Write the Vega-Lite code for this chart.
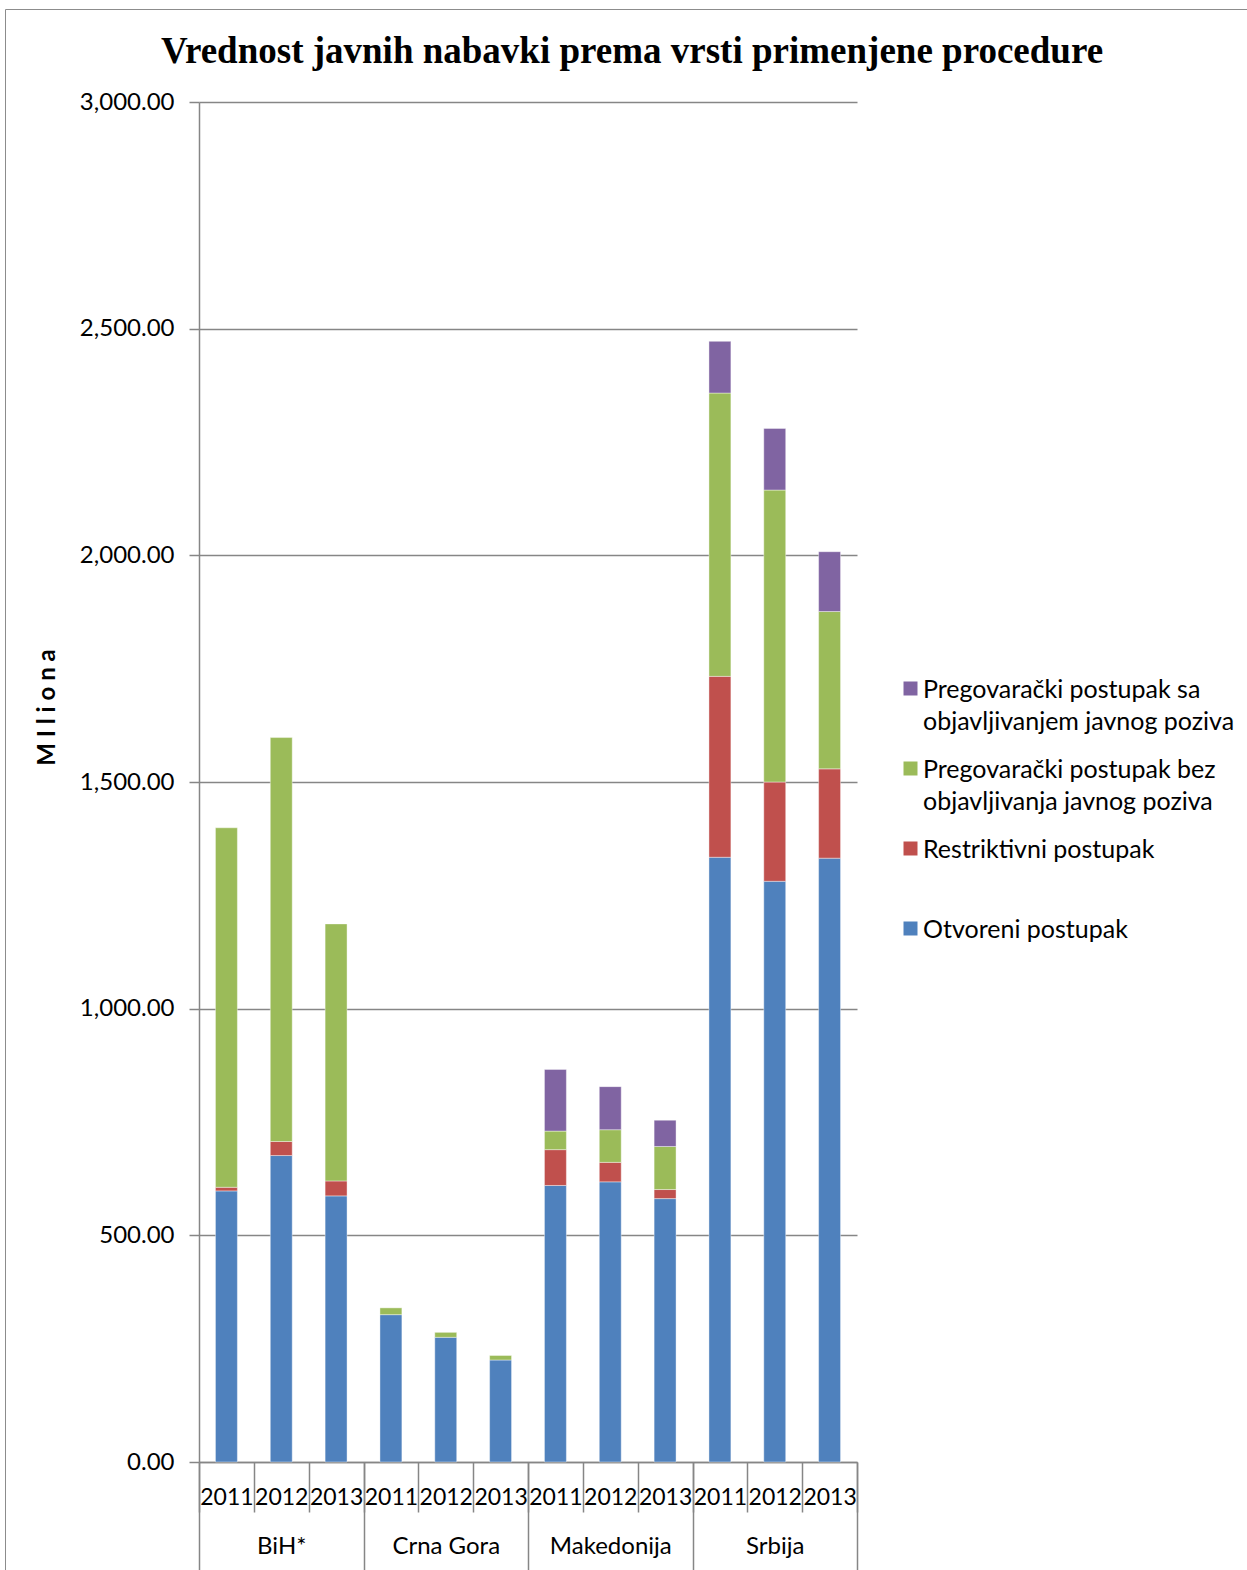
{
  "$schema": "https://vega.github.io/schema/vega-lite/v6.json",
  "width": 658,
  "height": 1360,
  "autosize": {"type": "none"},
  "padding": {"left": 199, "top": 102, "right": 390, "bottom": 108},
  "background": "white",
  "title": {
    "text": "Vrednost javnih nabavki prema vrsti primenjene procedure",
    "font": "Liberation Serif",
    "fontSize": 37,
    "fontWeight": "bold",
    "color": "#000000",
    "anchor": "middle",
    "frame": "group",
    "dx": 104,
    "dy": 84,
    "offset": 22
  },
  "config": {
    "view": {"stroke": null},
    "axis": {"labelColor": "#000000", "tickColor": "#868686", "domainColor": "#868686"},
    "style": {"guide-label": {"lineHeight": 32}}
  },
  "datasets": {
    "procurement": [
      {"country": "BiH*", "year": "2011", "procedure": "Otvoreni postupak", "value": 598},
      {"country": "BiH*", "year": "2011", "procedure": "Restriktivni postupak", "value": 8},
      {"country": "BiH*", "year": "2011", "procedure": "Pregovarački postupak bez objavljivanja javnog poziva", "value": 793},
      {"country": "BiH*", "year": "2012", "procedure": "Otvoreni postupak", "value": 676},
      {"country": "BiH*", "year": "2012", "procedure": "Restriktivni postupak", "value": 31},
      {"country": "BiH*", "year": "2012", "procedure": "Pregovarački postupak bez objavljivanja javnog poziva", "value": 891},
      {"country": "BiH*", "year": "2013", "procedure": "Otvoreni postupak", "value": 587},
      {"country": "BiH*", "year": "2013", "procedure": "Restriktivni postupak", "value": 33},
      {"country": "BiH*", "year": "2013", "procedure": "Pregovarački postupak bez objavljivanja javnog poziva", "value": 567},
      {"country": "Crna Gora", "year": "2011", "procedure": "Otvoreni postupak", "value": 325},
      {"country": "Crna Gora", "year": "2011", "procedure": "Pregovarački postupak bez objavljivanja javnog poziva", "value": 15},
      {"country": "Crna Gora", "year": "2012", "procedure": "Otvoreni postupak", "value": 275},
      {"country": "Crna Gora", "year": "2012", "procedure": "Pregovarački postupak bez objavljivanja javnog poziva", "value": 11},
      {"country": "Crna Gora", "year": "2013", "procedure": "Otvoreni postupak", "value": 225},
      {"country": "Crna Gora", "year": "2013", "procedure": "Pregovarački postupak bez objavljivanja javnog poziva", "value": 10},
      {"country": "Makedonija", "year": "2011", "procedure": "Otvoreni postupak", "value": 610},
      {"country": "Makedonija", "year": "2011", "procedure": "Restriktivni postupak", "value": 79},
      {"country": "Makedonija", "year": "2011", "procedure": "Pregovarački postupak bez objavljivanja javnog poziva", "value": 41},
      {"country": "Makedonija", "year": "2011", "procedure": "Pregovarački postupak sa objavljivanjem javnog poziva", "value": 136},
      {"country": "Makedonija", "year": "2012", "procedure": "Otvoreni postupak", "value": 618},
      {"country": "Makedonija", "year": "2012", "procedure": "Restriktivni postupak", "value": 43},
      {"country": "Makedonija", "year": "2012", "procedure": "Pregovarački postupak bez objavljivanja javnog poziva", "value": 72},
      {"country": "Makedonija", "year": "2012", "procedure": "Pregovarački postupak sa objavljivanjem javnog poziva", "value": 95},
      {"country": "Makedonija", "year": "2013", "procedure": "Otvoreni postupak", "value": 581},
      {"country": "Makedonija", "year": "2013", "procedure": "Restriktivni postupak", "value": 20},
      {"country": "Makedonija", "year": "2013", "procedure": "Pregovarački postupak bez objavljivanja javnog poziva", "value": 95},
      {"country": "Makedonija", "year": "2013", "procedure": "Pregovarački postupak sa objavljivanjem javnog poziva", "value": 58},
      {"country": "Srbija", "year": "2011", "procedure": "Otvoreni postupak", "value": 1334},
      {"country": "Srbija", "year": "2011", "procedure": "Restriktivni postupak", "value": 399},
      {"country": "Srbija", "year": "2011", "procedure": "Pregovarački postupak bez objavljivanja javnog poziva", "value": 625},
      {"country": "Srbija", "year": "2011", "procedure": "Pregovarački postupak sa objavljivanjem javnog poziva", "value": 114},
      {"country": "Srbija", "year": "2012", "procedure": "Otvoreni postupak", "value": 1281},
      {"country": "Srbija", "year": "2012", "procedure": "Restriktivni postupak", "value": 219},
      {"country": "Srbija", "year": "2012", "procedure": "Pregovarački postupak bez objavljivanja javnog poziva", "value": 644},
      {"country": "Srbija", "year": "2012", "procedure": "Pregovarački postupak sa objavljivanjem javnog poziva", "value": 136},
      {"country": "Srbija", "year": "2013", "procedure": "Otvoreni postupak", "value": 1332},
      {"country": "Srbija", "year": "2013", "procedure": "Restriktivni postupak", "value": 197},
      {"country": "Srbija", "year": "2013", "procedure": "Pregovarački postupak bez objavljivanja javnog poziva", "value": 347},
      {"country": "Srbija", "year": "2013", "procedure": "Pregovarački postupak sa objavljivanjem javnog poziva", "value": 132}
    ]
  },
  "data": {"name": "procurement"},
  "layer": [
    {
      "transform": [
        {"calculate": "datum.country + ' ' + datum.year", "as": "slot"},
        {"calculate": "indexof(['Otvoreni postupak', 'Restriktivni postupak', 'Pregovarački postupak bez objavljivanja javnog poziva', 'Pregovarački postupak sa objavljivanjem javnog poziva'], datum.procedure)", "as": "stackRank"}
      ],
      "mark": {"type": "bar", "width": {"band": 0.4}, "stroke": "#ffffff", "strokeWidth": 0.8, "strokeOpacity": 0.5},
      "encoding": {
        "x": {
          "field": "slot",
          "type": "nominal",
          "scale": {"paddingInner": 0, "paddingOuter": 0},
          "axis": {
            "title": null,
            "orient": "bottom",
            "tickBand": "extent",
            "tickSize": 50,
            "tickWidth": 1.5,
            "domainWidth": 1.5,
            "labelExpr": "substring(datum.label, length(datum.label) - 4)",
            "labelAngle": 0,
            "labelBaseline": "middle",
            "labelPadding": -15,
            "labelFont": "Lato",
            "labelFontSize": 23,
            "labelOverlap": false,
            "labelBound": false,
            "labelFlush": false,
            "grid": false
          }
        },
        "y": {
          "field": "value",
          "type": "quantitative",
          "aggregate": "sum",
          "stack": "zero",
          "scale": {"domain": [0, 3000], "nice": false},
          "axis": {
            "title": "M I l i o n a",
            "titleFont": "Lato",
            "titleFontSize": 24,
            "titleFontWeight": "bold",
            "titleColor": "#000000",
            "titlePadding": 20,
            "titleY": 605,
            "values": [0, 500, 1000, 1500, 2000, 2500, 3000],
            "format": ",.2f",
            "grid": true,
            "gridColor": "#868686",
            "gridWidth": 1.5,
            "domainWidth": 1.5,
            "tickSize": 10,
            "tickWidth": 1.5,
            "labelPadding": 15,
            "labelFont": "Lato",
            "labelFontSize": 24
          }
        },
        "color": {
          "field": "procedure",
          "type": "nominal",
          "scale": {
            "domain": [
              "Pregovarački postupak sa objavljivanjem javnog poziva",
              "Pregovarački postupak bez objavljivanja javnog poziva",
              "Restriktivni postupak",
              "Otvoreni postupak"
            ],
            "range": ["#8064A2", "#9BBB59", "#C0504D", "#4F81BD"]
          },
          "legend": {
            "title": null,
            "orient": "none",
            "legendX": 699,
            "legendY": 563,
            "symbolType": "M-1,0.571H1V2.571H-1Z",
            "symbolSize": 196,
            "symbolStrokeWidth": 0,
            "symbolOpacity": 1,
            "labelFont": "Lato",
            "labelFontSize": 25,
            "labelColor": "#000000",
            "labelLimit": 0,
            "labelOffset": 0,
            "labelBaseline": "top",
            "labelExpr": "indexof(datum.label, ' objav') > 0 ? [substring(datum.label, 0, indexof(datum.label, ' objav')), substring(datum.label, indexof(datum.label, ' objav') + 1)] : datum.label",
            "gridAlign": "all",
            "rowPadding": 10
          }
        },
        "order": {"field": "stackRank", "type": "quantitative", "sort": "ascending"}
      }
    },
    {
      "mark": {"type": "rule", "opacity": 0},
      "encoding": {
        "x": {
          "field": "country",
          "type": "nominal",
          "scale": {"paddingInner": 0, "paddingOuter": 0},
          "axis": {
            "title": null,
            "orient": "bottom",
            "tickBand": "extent",
            "tickSize": 115,
            "tickWidth": 1.5,
            "domain": false,
            "labelAngle": 0,
            "labelBaseline": "middle",
            "labelPadding": -30.5,
            "labelFont": "Lato",
            "labelFontSize": 24,
            "labelOverlap": false,
            "labelBound": false,
            "labelFlush": false,
            "grid": false
          }
        },
        "strokeDash": {
          "datum": "okvir",
          "type": "nominal",
          "legend": {
            "title": null,
            "orient": "none",
            "legendX": -194,
            "legendY": -93,
            "padding": 820,
            "strokeColor": "#8c8c8c",
            "symbolOpacity": 0,
            "labelExpr": "''"
          }
        }
      }
    }
  ],
  "resolve": {"scale": {"x": "independent"}, "axis": {"x": "independent"}}
}
